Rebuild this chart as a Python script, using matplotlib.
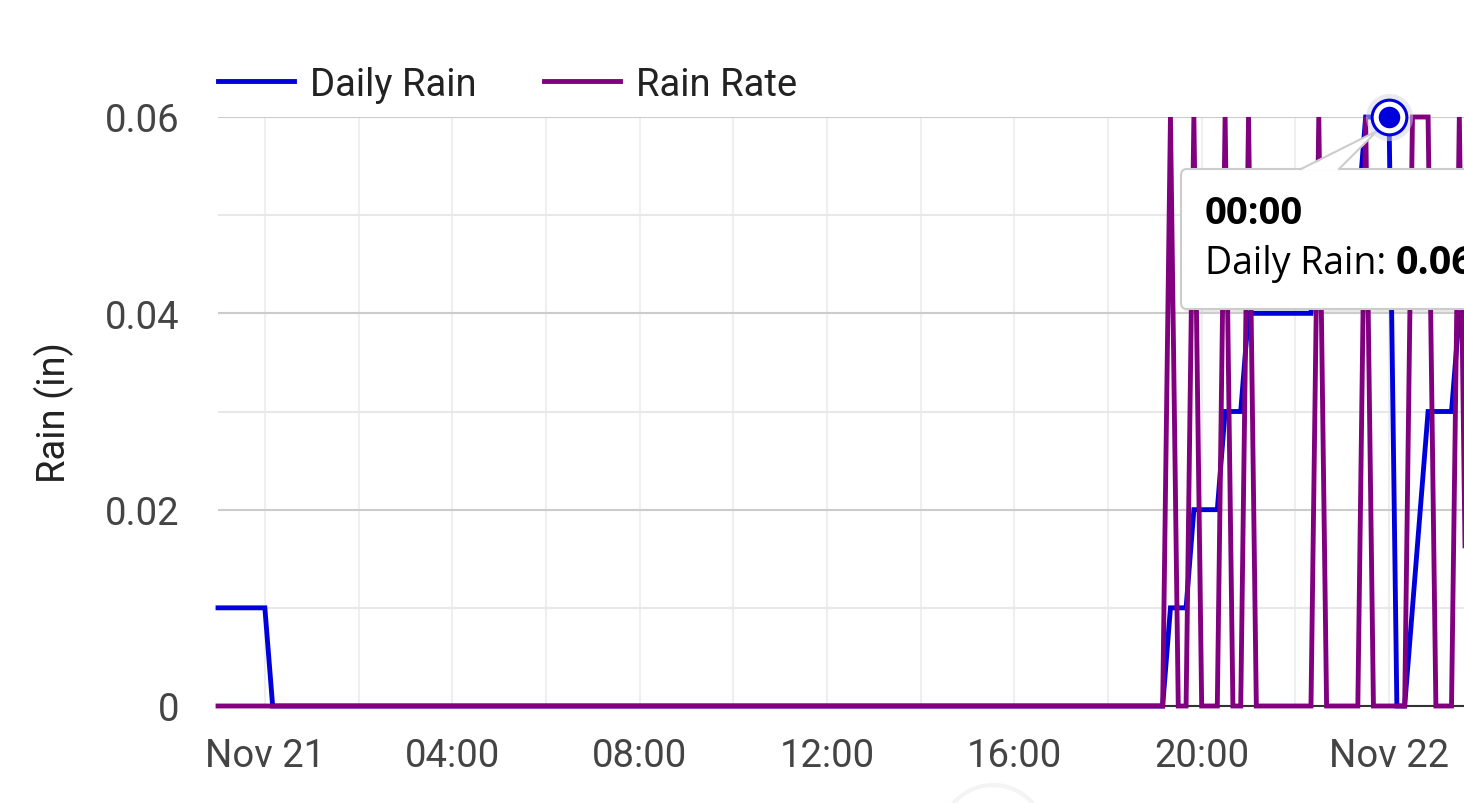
import matplotlib
matplotlib.use("Agg")
import matplotlib.pyplot as plt
import matplotlib.dates as mdates
import matplotlib.transforms as mtransforms
from matplotlib.patches import FancyBboxPatch, Polygon, Circle
from matplotlib.ticker import FuncFormatter, MultipleLocator
import pandas as pd

# Daily Rain (in), only the samples where the line bends
daily_time = ["2023-11-20 23:00", "2023-11-21 00:00", "2023-11-21 00:10",
              "2023-11-21 19:10", "2023-11-21 19:20", "2023-11-21 19:40",
              "2023-11-21 19:50", "2023-11-21 20:20", "2023-11-21 20:30",
              "2023-11-21 20:50", "2023-11-21 21:00", "2023-11-21 22:20",
              "2023-11-21 22:30", "2023-11-21 23:20", "2023-11-21 23:30",
              "2023-11-22 00:00", "2023-11-22 00:10", "2023-11-22 00:20",
              "2023-11-22 00:30", "2023-11-22 00:40", "2023-11-22 00:50",
              "2023-11-22 01:20", "2023-11-22 01:30", "2023-11-22 01:40"]
daily_rain = [0.01, 0.01, 0.0,
              0.0, 0.01, 0.01,
              0.02, 0.02, 0.03,
              0.03, 0.04, 0.04,
              0.05, 0.05, 0.06,
              0.06, 0.0, 0.0,
              0.01, 0.02, 0.03,
              0.03, 0.04, 0.04]

# Rain Rate (in/h)
rate_time = ["2023-11-20 23:00", "2023-11-21 19:10", "2023-11-21 19:20",
             "2023-11-21 19:30", "2023-11-21 19:40", "2023-11-21 19:50",
             "2023-11-21 20:00", "2023-11-21 20:20", "2023-11-21 20:30",
             "2023-11-21 20:40", "2023-11-21 20:50", "2023-11-21 21:00",
             "2023-11-21 21:10", "2023-11-21 22:20", "2023-11-21 22:30",
             "2023-11-21 22:40", "2023-11-21 23:20", "2023-11-21 23:30",
             "2023-11-21 23:40", "2023-11-22 00:20", "2023-11-22 00:30",
             "2023-11-22 00:40", "2023-11-22 00:50", "2023-11-22 01:00",
             "2023-11-22 01:20", "2023-11-22 01:30", "2023-11-22 01:40"]
rain_rate = [0.0, 0.0, 0.06,
             0.0, 0.0, 0.06,
             0.0, 0.0, 0.06,
             0.0, 0.0, 0.06,
             0.0, 0.0, 0.06,
             0.0, 0.0, 0.06,
             0.0, 0.0, 0.06,
             0.06, 0.06, 0.0,
             0.0, 0.06, 0.0]

hover_time = "2023-11-22 00:00"
x_start = "2023-11-20 23:00"
x_end = "2023-11-22 01:36"

BLUE = "#0000dd"
PURPLE = "#800080"
W, H = 1464, 804

plt.rcParams["font.family"] = ["Roboto", "DejaVu Sans"]

fig = plt.figure(figsize=(W / 100, H / 100), dpi=100)
ax = fig.add_axes([218 / W, (H - 707) / H, 1 - 218 / W, 589 / H])

dt_daily = pd.to_datetime(daily_time)
dt_rate = pd.to_datetime(rate_time)

ax.plot(dt_daily, daily_rain, color=BLUE, lw=3.5, label="Daily Rain",
        clip_on=False, zorder=3, solid_joinstyle="miter")
ax.plot(dt_rate, rain_rate, color=PURPLE, lw=3.5, label="Rain Rate",
        clip_on=False, zorder=4, solid_joinstyle="miter")

ax.set_xlim(pd.Timestamp(x_start), pd.Timestamp(x_end))
ax.set_ylim(0, 0.06)

ax.xaxis.set_major_locator(mdates.HourLocator(byhour=range(0, 24, 4)))
ax.xaxis.set_minor_locator(mdates.HourLocator(byhour=range(0, 24, 2)))


def xfmt(v, pos):
    d = mdates.num2date(v)
    if d.hour == 0:
        return d.strftime("%b %d").replace(" 0", " ")
    return d.strftime("%H:%M")


ax.xaxis.set_major_formatter(FuncFormatter(xfmt))
ax.yaxis.set_major_locator(MultipleLocator(0.02))
ax.yaxis.set_minor_locator(MultipleLocator(0.01))
ax.yaxis.set_major_formatter(FuncFormatter(lambda v, p: "0" if abs(v) < 1e-9 else f"{v:.2f}"))

ax.grid(axis="y", which="major", color="#cccccc", lw=1.5)
ax.grid(axis="y", which="minor", color="#e8e8e8", lw=1.5)
ax.grid(axis="x", which="both", color="#efefef", lw=1.5)
ax.set_axisbelow(True)

ax.tick_params(axis="both", which="both", length=0, labelsize=27.5, labelcolor="#444444")
ax.tick_params(axis="x", pad=22)
ax.tick_params(axis="y", pad=28)
for s in ["top", "right", "left"]:
    ax.spines[s].set_visible(False)
ax.spines["bottom"].set_color("#333333")
ax.spines["bottom"].set_linewidth(1.5)

ax.set_ylabel("Rain (in)", fontsize=27.5, color="#222222", labelpad=22)

ax.legend(loc="center left", bbox_to_anchor=(218 / W, (H - 85) / H),
          bbox_transform=fig.transFigure, ncol=2, frameon=False,
          fontsize=27.5, handlelength=2.0, handletextpad=0.42,
          columnspacing=1.75, borderpad=0, borderaxespad=0,
          labelcolor="#222222")

# hovered point
hv = daily_rain[daily_time.index(hover_time)]
ht = pd.Timestamp(hover_time)
ax.plot([ht], [hv], "o", ms=34, color="#d4d4e4", alpha=0.5, mew=0, clip_on=False, zorder=8)
ax.plot([ht], [hv], "o", ms=25, mfc="white", mec=BLUE, mew=2.2, clip_on=False, zorder=9)
ax.plot([ht], [hv], "o", ms=15.5, color=BLUE, mew=0, clip_on=False, zorder=10)

# tooltip drawn in pixel coordinates (y from top)
px = mtransforms.Affine2D().scale(1, -1).translate(0, H)
shadow = FancyBboxPatch((1183, 173), 400, 140, boxstyle="round,pad=0,rounding_size=6",
                        fc="#000000", ec="none", alpha=0.08, transform=px,
                        clip_on=False, zorder=6)
box = FancyBboxPatch((1181, 170), 400, 140, boxstyle="round,pad=0,rounding_size=6",
                     fc="white", ec="#cccccc", lw=1.5, transform=px,
                     clip_on=False, zorder=7)
ax.add_patch(shadow)
ax.add_patch(box)
ax.add_patch(Polygon([[1301, 171], [1377, 132], [1339, 171]], closed=True,
                     fc="white", ec="none", transform=px, clip_on=False, zorder=7.5))
ax.plot([1301, 1377, 1339], [170, 132, 170], color="#cccccc", lw=1.5,
        transform=px, clip_on=False, zorder=7.6)

tfont = ["Open Sans", "DejaVu Sans"]
ax.text(1205, 214, ht.strftime("%H:%M"), transform=px, fontsize=27.5, fontweight="bold",
        family=tfont, va="center", ha="left", color="#000000", zorder=11, clip_on=False)
lab = ax.text(1205, 264, "Daily Rain: ", transform=px, fontsize=27, family=tfont,
              va="center", ha="left", color="#000000", zorder=11, clip_on=False)
fig.canvas.draw()
bb = lab.get_window_extent(renderer=fig.canvas.get_renderer())
ax.text(bb.x1, H - 264, f"{hv:.2f}", transform=None, fontsize=28.5, fontweight="bold",
        family=tfont, va="center", ha="left", color="#000000", zorder=11, clip_on=False)

# faint scroll indicator at bottom
ax.add_patch(Circle((993, 838), 52, fill=False, ec="#f4f4f4", lw=3,
                    transform=px, clip_on=False, zorder=1))

fig.savefig("out.png", dpi=100)
